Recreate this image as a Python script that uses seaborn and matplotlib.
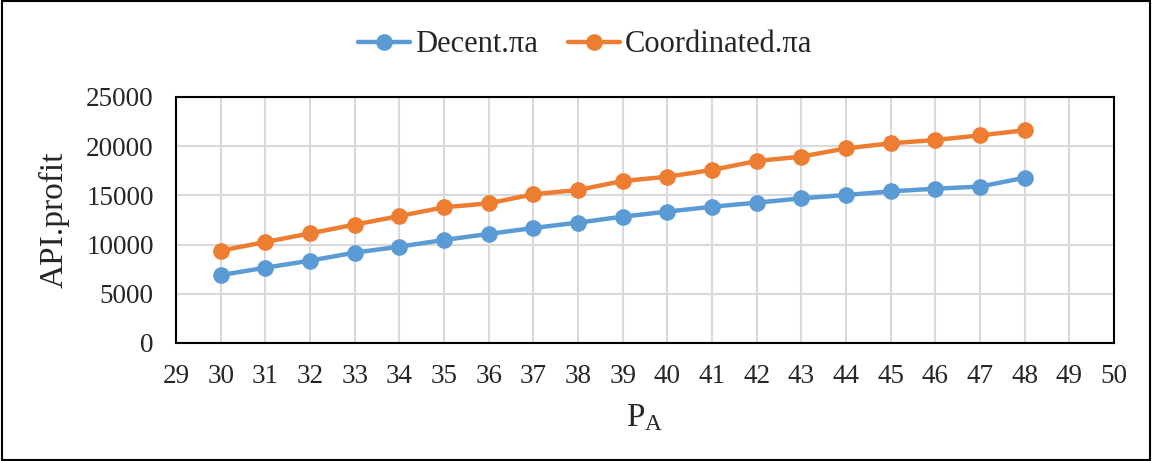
import matplotlib
matplotlib.use("Agg")
import matplotlib.pyplot as plt
import seaborn as sns
import pandas as pd
from matplotlib.patches import Rectangle

pa = [30, 31, 32, 33, 34, 35, 36, 37, 38, 39, 40, 41, 42, 43, 44, 45, 46, 47, 48]
decent = [6900, 7650, 8370, 9180, 9790, 10470, 11080, 11690, 12230, 12840, 13350,
          13850, 14260, 14700, 15040, 15410, 15680, 15890, 16800]
coord = [9380, 10260, 11140, 12030, 12900, 13790, 14190, 15110, 15550, 16460, 16900,
         17580, 18500, 18940, 19780, 20290, 20630, 21100, 21610]
series_names = ["Decent.\u03c0a", "Coordinated.\u03c0a"]
colors = ["#5B9BD5", "#ED7D31"]
x_ticks = list(range(29, 51))
y_ticks = [0, 5000, 10000, 15000, 20000, 25000]

df = pd.concat([
    pd.DataFrame({"PA": pa, "profit": decent, "series": series_names[0]}),
    pd.DataFrame({"PA": pa, "profit": coord, "series": series_names[1]}),
])

sns.set_theme(style="white")
plt.rcParams['font.family'] = ['Liberation Serif', 'DejaVu Serif']
plt.rcParams['mathtext.fontset'] = 'custom'
plt.rcParams['mathtext.rm'] = 'Liberation Serif'
plt.rcParams['mathtext.it'] = 'Liberation Serif'

fig = plt.figure(figsize=(11.52, 4.61), dpi=100)
ax = fig.add_axes([0.1528, 0.256, 0.967 - 0.1528, 0.7896 - 0.256])

sns.lineplot(data=df, x="PA", y="profit", hue="series", palette=colors,
             marker="o", markersize=12, markeredgewidth=0, linewidth=3.2,
             ax=ax, legend=True)

ax.set_xlim(29, 50)
ax.set_ylim(0, 25000)
ax.set_xticks(x_ticks)
ax.set_yticks(y_ticks)
ax.set_xticklabels([str(t) for t in x_ticks], fontsize=19.5)
ax.set_yticklabels([str(t) for t in y_ticks], fontsize=19.5)
ax.tick_params(axis='y', length=0, pad=16)
ax.tick_params(axis='x', length=0, pad=15)
ax.grid(True, color="#d9d9d9", linewidth=1.5)
ax.set_axisbelow(True)
for s in ax.spines.values():
    s.set_color("black")
    s.set_linewidth(1.5)

ax.set_xlabel(r"$\mathrm{P_A}$", fontsize=24, labelpad=10)
ax.set_ylabel("API.profit", fontsize=24, labelpad=12)

handles, labels = ax.get_legend_handles_labels()
ax.get_legend().remove()
fig.legend(handles, labels, loc="center", bbox_to_anchor=(0.508, 1 - 45 / 461),
           ncol=2, frameon=False, fontsize=22, handlelength=1.7,
           columnspacing=1.0, handletextpad=0.15)

fig.patches.append(Rectangle((0.002, 0.003), 0.996, 0.994, transform=fig.transFigure,
                             fill=False, edgecolor="black", linewidth=1.5))

fig.savefig("out.png", dpi=100)
